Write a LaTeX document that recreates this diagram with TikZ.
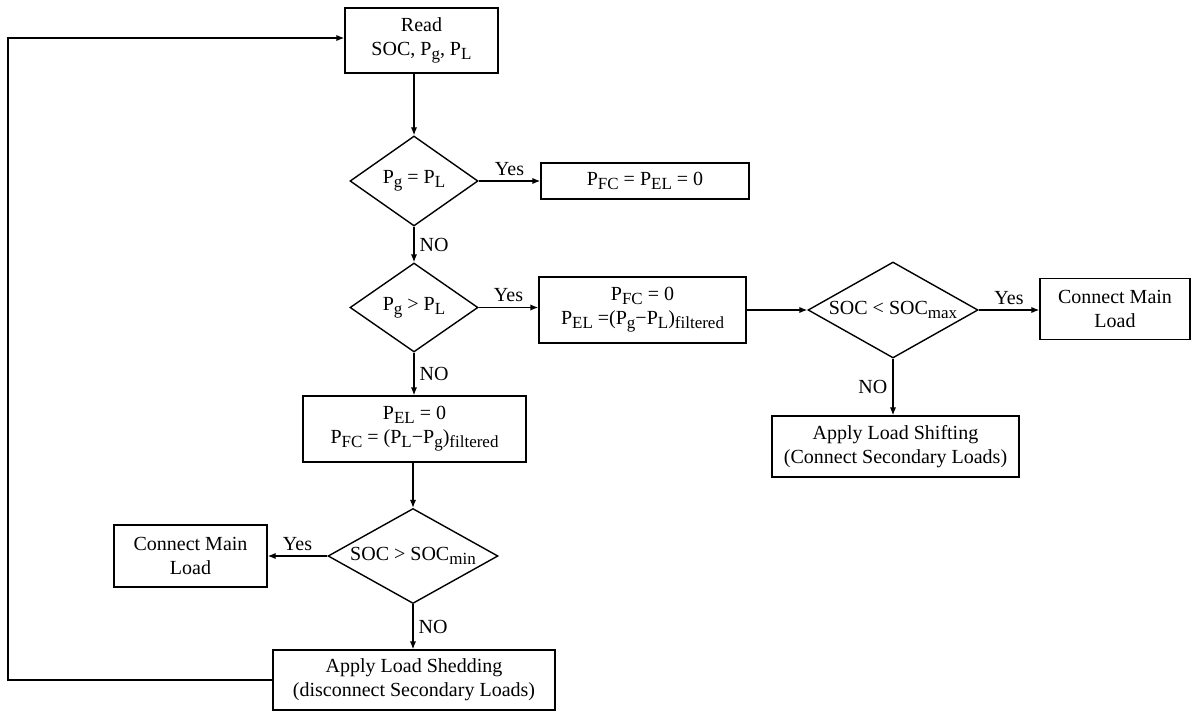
\documentclass[tikz,border=0pt]{standalone}
\usepackage{fontspec}
\setmainfont{Liberation Serif}
\usetikzlibrary{positioning,arrows.meta,shapes.geometric}
\newcommand{\lo}[1]{\raisebox{-0.45ex}{\fontsize{8.5}{8.5}\selectfont #1}}

\begin{document}
\begin{tikzpicture}[x=0.5pt, y=-0.5pt, font=\fontsize{10}{12}\selectfont, >={Latex[length=4pt,width=3.2pt]},
  line width=0.7pt,
  box/.style={draw, align=center, inner sep=1pt},
  test/.style={draw, diamond, align=center, inner sep=0pt},
  lbl/.style={inner sep=2.5pt}]
  \useasboundingbox (0,0) rectangle (1192,711);
  % main column
  \node[box, minimum width=76.5pt, minimum height=32.5pt] (read) at (421.5,40.5) {Read\\SOC, P\lo{g}, P\lo{L}};
  \node[test, minimum width=64pt, minimum height=45pt, aspect=1.42] (d1) at (414,181) {P\lo{g} = P\lo{L}};
  \node[box, minimum width=104pt, minimum height=18pt] (b0) at (645,181) {P\lo{FC} = P\lo{EL} = 0};
  \node[test, minimum width=64pt, minimum height=44.5pt, aspect=1.42] (d2) at (414,307.5) {P\lo{g} > P\lo{L}};
  \node[box, minimum width=103.5pt, minimum height=33pt] (b1) at (642.5,310) {P\lo{FC} = 0\\P\lo{EL} =(P\lo{g}−P\lo{L})\lo{filtered}};
  \node[box, minimum width=111.5pt, minimum height=33pt] (b4) at (414.5,429) {P\lo{EL} = 0\\P\lo{FC} = (P\lo{L}−P\lo{g})\lo{filtered}};
  \node[test, minimum width=85pt, minimum height=47.5pt, aspect=1.79] (d4) at (413,556) {SOC > SOC\lo{min}};
  \node[box, minimum width=76.5pt, minimum height=31pt] (b5) at (190.5,556) {Connect Main\\Load};
  \node[box, minimum width=141pt, minimum height=30pt] (b6) at (414,680) {Apply Load Shedding\\(disconnect Secondary Loads)};
  % charging branch
  \node[test, minimum width=85pt, minimum height=48pt, aspect=1.77] (d3) at (893,310) {SOC < SOC\lo{max}};
  \node[box, minimum width=75pt, minimum height=30.5pt] (b2) at (1115,309) {Connect Main\\Load};
  \node[box, minimum width=123.5pt, minimum height=30.5pt] (b3) at (895.5,446.5) {Apply Load Shifting\\(Connect Secondary Loads)};
  % connectors
  \draw[->] (read.south -| d1.north) -- (d1.north);
  \draw[->] (d1.east) -- node[above, lbl] {Yes} (b0.west);
  \draw[->] (d1.south) -- node[right, lbl] {NO} (d2.north);
  \draw[->] (d2.east) -- node[above, lbl] {Yes} (d2.east -| b1.west);
  \draw[->] (d2.south) -- node[right, lbl] {NO} (d2.south |- b4.north);
  \draw[->] (b1.east |- d3.west) -- (d3.west);
  \draw[->] (d3.east) -- node[above, lbl] {Yes} (d3.east -| b2.west);
  \draw[->] (d3.south) -- node[left, lbl] {NO} (d3.south |- b3.north);
  \draw[->] (b4.south -| d4.north) -- (d4.north);
  \draw[->] (d4.west) -- node[above, lbl] {Yes} (b5.east);
  \draw[->] (d4.south) -- node[right, lbl] {NO} (d4.south |- b6.north);
  % back to start
  \coordinate (fb) at (8,38);
  \draw[->] (b6.west) -| (fb) -- (fb -| read.west);
\end{tikzpicture}
\end{document}
